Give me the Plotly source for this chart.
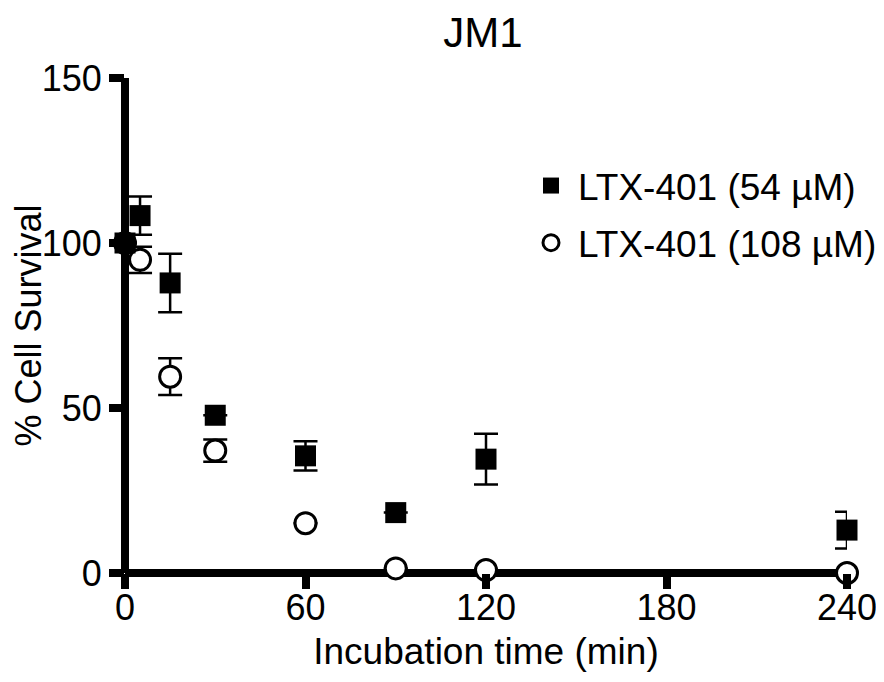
import plotly.graph_objects as go

# Data
time_54 = [0, 5, 15, 30, 60, 90, 120, 240]
surv_54 = [100, 108.3, 87.9, 47.8, 35.5, 18.3, 34.5, 13.0]
err_54 = [0, 5.8, 8.85, 0, 4.45, 0, 7.7, 5.55]

time_108 = [0, 5, 15, 30, 60, 90, 120, 240]
surv_108 = [100, 94.9, 59.5, 37.1, 15.1, 1.4, 0.9, 0.0]
err_108 = [0, 4.0, 5.55, 3.35, 0, 0, 0, 0]

x_ticks = [0, 60, 120, 180, 240]
y_ticks = [0, 50, 100, 150]

name_54 = "LTX-401 (54 µM)"
name_108 = "LTX-401 (108 µM)"
title_text = "JM1"
x_title = "Incubation time (min)"
y_title = "% Cell Survival"

FONT = "Arial, 'Liberation Sans', Helvetica, sans-serif"

# the page body adds an 8 px margin; keep the figure inside the visible page
W, H = 868, 666
L, R, T, B = 117, 29, 70, 101
PW = W - L - R  # plot width in px

fig = go.Figure()
# circles first so that the squares are drawn on top (as in the reference)
fig.add_trace(go.Scatter(
    x=time_108, y=surv_108, mode="markers", name=name_108,
    legendgroup="b", legendrank=2,
    marker=dict(symbol="circle", size=21, color="white",
                line=dict(width=3, color="black")),
    error_y=dict(type="data", array=err_108, visible=True, color="black",
                 thickness=2.5, width=12),
    cliponaxis=False,
))
fig.add_trace(go.Scatter(
    x=time_54, y=surv_54, mode="markers", name=name_54,
    legendgroup="a", legendrank=1,
    marker=dict(symbol="square", size=21, color="black", line=dict(width=0)),
    error_y=dict(type="data", array=err_54, visible=True, color="black",
                 thickness=2.5, width=12),
    cliponaxis=False,
))

fig.update_layout(
    width=W, height=H,
    margin=dict(l=L, r=R, t=T, b=B, pad=0, autoexpand=False),
    paper_bgcolor="white", plot_bgcolor="white",
    font=dict(family=FONT, size=37, color="black"),
    title=dict(text=title_text, x=(358) / PW, xref="paper", xanchor="center",
               y=1 - 24 / H, yref="container", yanchor="middle",
               font=dict(size=42, family=FONT, color="black")),
    showlegend=True,
    legend=dict(x=399 / PW, y=(573 - 155) / 495, xanchor="left", yanchor="top",
                xref="paper", yref="paper",
                font=dict(size=37, family=FONT, color="black"),
                bgcolor="rgba(0,0,0,0)", borderwidth=0,
                traceorder="grouped", tracegroupgap=6, itemwidth=44),
    xaxis=dict(
        range=[0, 240], tickmode="array", tickvals=x_ticks,
        ticktext=[str(v) for v in x_ticks],
        showgrid=False, showline=False, automargin=False,
        zeroline=True, zerolinecolor="black", zerolinewidth=8,
        ticks="outside", ticklen=15, tickwidth=8, tickcolor="black",
        ticklabelstandoff=-12, ticklabeloverflow="allow",
        tickfont=dict(size=36, family=FONT, color="black"),
        title=dict(text=x_title, font=dict(size=37, family=FONT, color="black"),
                   standoff=10),
        fixedrange=True,
    ),
    yaxis=dict(
        range=[0, 150], tickmode="array", tickvals=y_ticks,
        ticktext=[str(v) for v in y_ticks],
        showgrid=False, showline=False, automargin=False,
        zeroline=True, zerolinecolor="black", zerolinewidth=8,
        ticks="outside", ticklen=15, tickwidth=8, tickcolor="black",
        tickfont=dict(size=36, family=FONT, color="black"),
        title=dict(text=y_title, font=dict(size=36, family=FONT, color="black"),
                   standoff=14),
        fixedrange=True,
    ),
)

fig.write_html("out.html")
